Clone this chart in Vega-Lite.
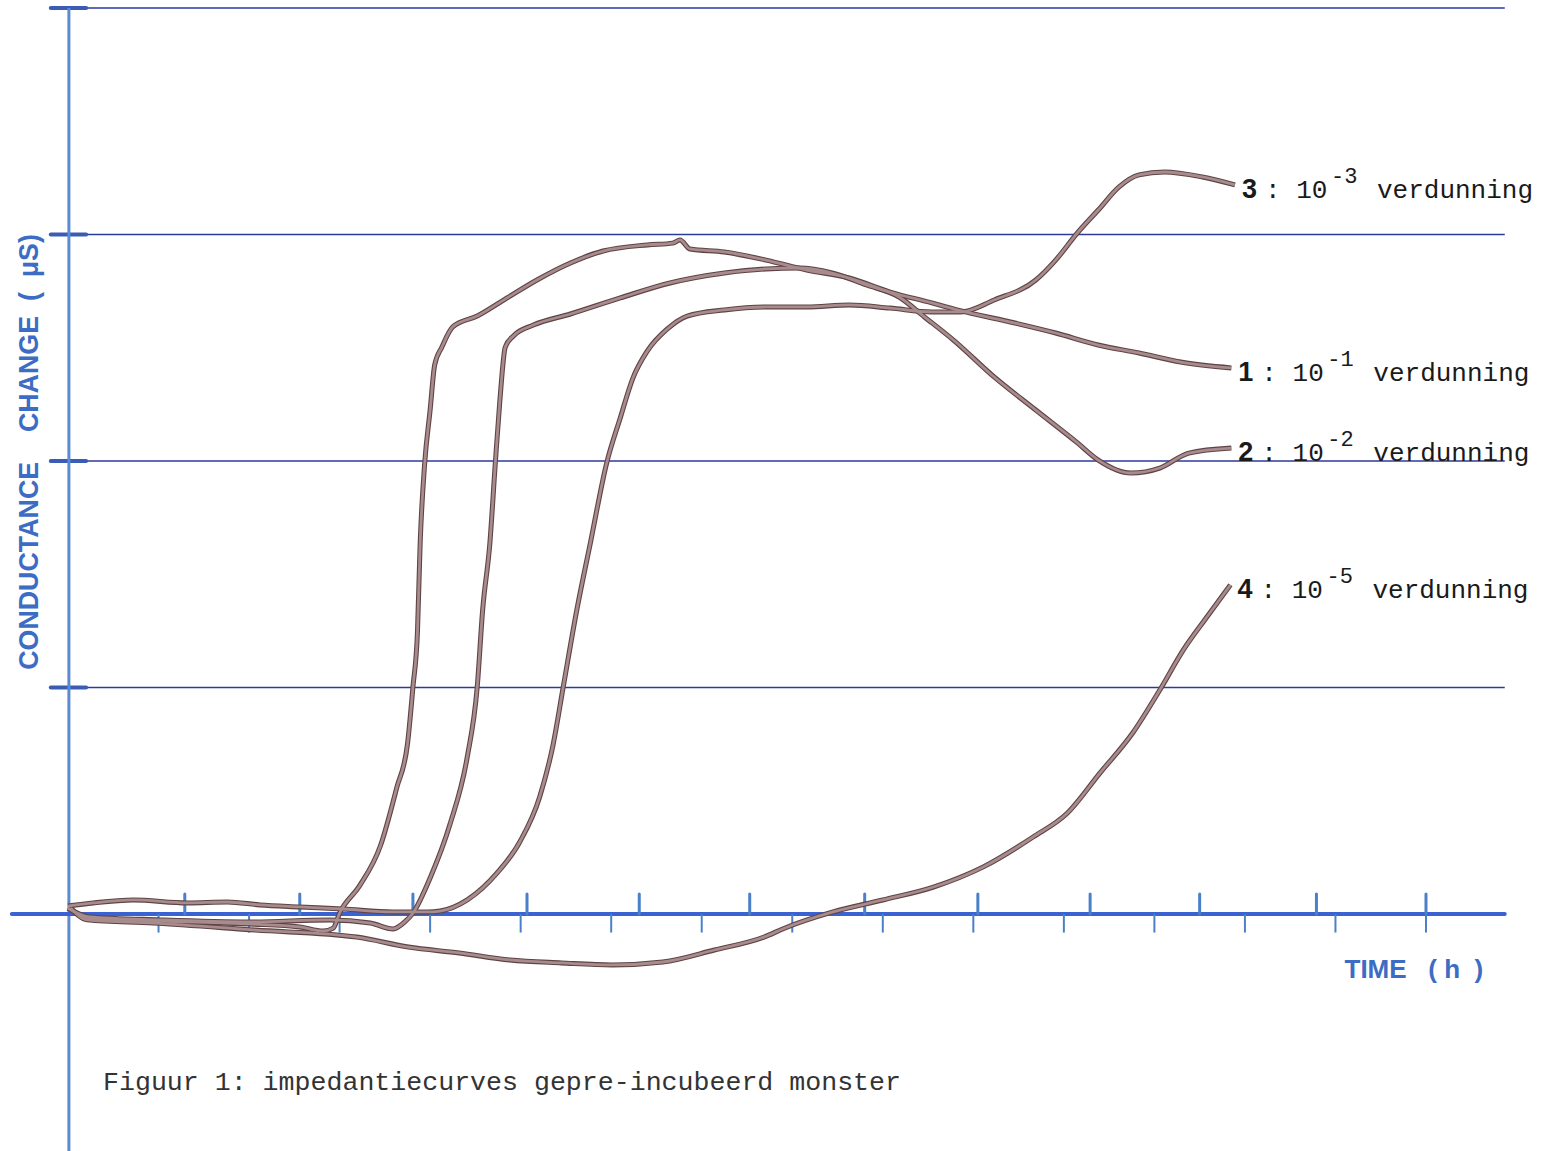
{
  "$schema": "https://vega.github.io/schema/vega-lite/v6.json",
  "width": 1555,
  "height": 1151,
  "autosize": "none",
  "padding": 0,
  "background": "#ffffff",
  "config": {"view": {"stroke": null}},
  "datasets": {
    "curves": [
      {"s":"1","t":0,"v":0.026},{"s":"1","t":0.24,"v":-0.018},{"s":"1","t":1.02,"v":-0.031},{"s":"1","t":2.01,"v":-0.044},{"s":"1","t":2.56,"v":-0.057},{"s":"1","t":2.82,"v":-0.075},{"s":"1","t":2.93,"v":-0.062},{"s":"1","t":3.0,"v":0.004},{"s":"1","t":3.22,"v":0.124},{"s":"1","t":3.45,"v":0.3},{"s":"1","t":3.63,"v":0.556},{"s":"1","t":3.75,"v":0.751},{"s":"1","t":3.81,"v":1.002},{"s":"1","t":3.86,"v":1.245},{"s":"1","t":3.89,"v":1.638},{"s":"1","t":3.94,"v":1.991},{"s":"1","t":4.0,"v":2.225},{"s":"1","t":4.05,"v":2.424},{"s":"1","t":4.13,"v":2.503},{"s":"1","t":4.25,"v":2.592},{"s":"1","t":4.52,"v":2.64},{"s":"1","t":4.85,"v":2.72},{"s":"1","t":5.18,"v":2.799},{"s":"1","t":5.55,"v":2.874},{"s":"1","t":5.91,"v":2.927},{"s":"1","t":6.4,"v":2.954},{"s":"1","t":6.68,"v":2.962},{"s":"1","t":6.76,"v":2.976},{"s":"1","t":6.87,"v":2.936},{"s":"1","t":7.25,"v":2.923},{"s":"1","t":7.71,"v":2.887},{"s":"1","t":8.16,"v":2.843},{"s":"1","t":8.63,"v":2.808},{"s":"1","t":9.08,"v":2.746},{"s":"1","t":9.54,"v":2.698},{"s":"1","t":9.82,"v":2.667},{"s":"1","t":10.46,"v":2.609},{"s":"1","t":10.91,"v":2.565},{"s":"1","t":11.38,"v":2.512},{"s":"1","t":11.83,"v":2.477},{"s":"1","t":12.29,"v":2.437},{"s":"1","t":12.85,"v":2.411},
      {"s":"2","t":0,"v":0.026},{"s":"2","t":0.24,"v":-0.013},{"s":"2","t":1.02,"v":-0.026},{"s":"2","t":2.01,"v":-0.035},{"s":"2","t":2.89,"v":-0.026},{"s":"2","t":3.34,"v":-0.04},{"s":"2","t":3.59,"v":-0.066},{"s":"2","t":3.72,"v":-0.035},{"s":"2","t":3.81,"v":0.004},{"s":"2","t":4.0,"v":0.159},{"s":"2","t":4.22,"v":0.397},{"s":"2","t":4.41,"v":0.693},{"s":"2","t":4.52,"v":1.002},{"s":"2","t":4.58,"v":1.342},{"s":"2","t":4.66,"v":1.638},{"s":"2","t":4.72,"v":1.991},{"s":"2","t":4.77,"v":2.265},{"s":"2","t":4.83,"v":2.503},{"s":"2","t":4.92,"v":2.552},{"s":"2","t":5.14,"v":2.6},{"s":"2","t":5.55,"v":2.649},{"s":"2","t":6.1,"v":2.72},{"s":"2","t":6.65,"v":2.786},{"s":"2","t":7.25,"v":2.83},{"s":"2","t":7.71,"v":2.848},{"s":"2","t":8.08,"v":2.852},{"s":"2","t":8.44,"v":2.83},{"s":"2","t":8.82,"v":2.777},{"s":"2","t":9.18,"v":2.724},{"s":"2","t":9.46,"v":2.636},{"s":"2","t":9.78,"v":2.534},{"s":"2","t":10.23,"v":2.371},{"s":"2","t":10.69,"v":2.225},{"s":"2","t":11.15,"v":2.08},{"s":"2","t":11.38,"v":2.004},{"s":"2","t":11.74,"v":1.947},{"s":"2","t":12.06,"v":1.969},{"s":"2","t":12.38,"v":2.035},{"s":"2","t":12.85,"v":2.057},
      {"s":"3","t":0,"v":0.035},{"s":"3","t":0.28,"v":0.049},{"s":"3","t":0.72,"v":0.062},{"s":"3","t":1.32,"v":0.049},{"s":"3","t":1.76,"v":0.053},{"s":"3","t":2.12,"v":0.04},{"s":"3","t":2.56,"v":0.031},{"s":"3","t":3.04,"v":0.022},{"s":"3","t":3.59,"v":0.009},{"s":"3","t":3.97,"v":0.009},{"s":"3","t":4.11,"v":0.013},{"s":"3","t":4.41,"v":0.062},{"s":"3","t":4.74,"v":0.181},{"s":"3","t":4.99,"v":0.318},{"s":"3","t":5.21,"v":0.517},{"s":"3","t":5.36,"v":0.751},{"s":"3","t":5.47,"v":1.002},{"s":"3","t":5.62,"v":1.342},{"s":"3","t":5.77,"v":1.638},{"s":"3","t":5.95,"v":1.991},{"s":"3","t":6.1,"v":2.19},{"s":"3","t":6.24,"v":2.366},{"s":"3","t":6.4,"v":2.486},{"s":"3","t":6.62,"v":2.583},{"s":"3","t":6.84,"v":2.64},{"s":"3","t":7.25,"v":2.667},{"s":"3","t":7.71,"v":2.68},{"s":"3","t":8.16,"v":2.68},{"s":"3","t":8.63,"v":2.689},{"s":"3","t":9.08,"v":2.675},{"s":"3","t":9.54,"v":2.658},{"s":"3","t":9.86,"v":2.658},{"s":"3","t":10.23,"v":2.711},{"s":"3","t":10.69,"v":2.799},{"s":"3","t":10.91,"v":2.887},{"s":"3","t":11.15,"v":3.007},{"s":"3","t":11.38,"v":3.108},{"s":"3","t":11.61,"v":3.21},{"s":"3","t":11.83,"v":3.263},{"s":"3","t":12.11,"v":3.276},{"s":"3","t":12.53,"v":3.254},{"s":"3","t":12.89,"v":3.219},
      {"s":"4","t":0.03,"v":0.026},{"s":"4","t":0.21,"v":-0.026},{"s":"4","t":0.94,"v":-0.04},{"s":"4","t":2.07,"v":-0.071},{"s":"4","t":3.19,"v":-0.102},{"s":"4","t":3.76,"v":-0.146},{"s":"4","t":4.32,"v":-0.172},{"s":"4","t":4.88,"v":-0.203},{"s":"4","t":5.45,"v":-0.216},{"s":"4","t":6.01,"v":-0.225},{"s":"4","t":6.57,"v":-0.212},{"s":"4","t":7.14,"v":-0.159},{"s":"4","t":7.7,"v":-0.1},{"s":"4","t":7.9,"v":-0.065},{"s":"4","t":8.45,"v":0.009},{"s":"4","t":9.0,"v":0.062},{"s":"4","t":9.56,"v":0.119},{"s":"4","t":10.11,"v":0.208},{"s":"4","t":10.66,"v":0.34},{"s":"4","t":11.04,"v":0.446},{"s":"4","t":11.4,"v":0.623},{"s":"4","t":11.76,"v":0.799},{"s":"4","t":12.06,"v":0.989},{"s":"4","t":12.32,"v":1.166},{"s":"4","t":12.58,"v":1.311},{"s":"4","t":12.84,"v":1.453}
    ],
    "labels": [
      {"s":"1","exp":"-1"},{"s":"2","exp":"-2"},{"s":"3","exp":"-3"},{"s":"4","exp":"-5"}
    ],
    "grid": [{"v":1},{"v":2},{"v":3},{"v":4}],
    "stubs": [{"v":0},{"v":1},{"v":2},{"v":3},{"v":4}],
    "upticks": [{"t":1.29},{"t":2.56},{"t":3.81},{"t":5.07},{"t":6.31},{"t":7.53},{"t":8.8},{"t":10.05},{"t":11.29},{"t":12.5},{"t":13.79},{"t":15.0}],
    "downticks": [{"t":1},{"t":2},{"t":3},{"t":4},{"t":5},{"t":6},{"t":7},{"t":8},{"t":9},{"t":10},{"t":11},{"t":12},{"t":13},{"t":14},{"t":15}],
    "texts": [
      {"id":"ytitle","t":-0.42,"v":2.04,"label":"CONDUCTANCE\u00a0\u00a0\u00a0\u00a0CHANGE\u00a0\u00a0(\u00a0\u00a0μS)"},
      {"id":"xtitle","t":14.1,"v":-0.247,"label":"TIME\u00a0\u00a0\u00a0(\u00a0h\u00a0\u00a0)"},
      {"id":"caption","t":0.387,"v":-0.742,"label":"Figuur 1: impedantiecurves gepre-incubeerd monster"}
    ],
    "axes": [
      {"id":"yaxis","t":0.01,"t2":0.01,"v":4.0,"v2":-1.05},
      {"id":"xaxis","t":-0.62,"t2":15.87,"v":0,"v2":0}
    ]
  },
  "layer": [
    {
      "data": {"name": "grid"},
      "transform": [{"calculate": "-0.2", "as": "t"}, {"calculate": "15.87", "as": "t2"}],
      "mark": {"type": "rule", "color": "#2c3a9c", "strokeWidth": 1.6},
      "encoding": {
        "x": {"field": "t", "type": "quantitative", "scale": {"domain": [-0.7511, 16.425], "nice": false, "zero": false}, "axis": null},
        "x2": {"field": "t2"},
        "y": {"field": "v", "type": "quantitative", "scale": {"domain": [-1.0464, 4.0353], "nice": false, "zero": false}, "axis": null}
      }
    },
    {
      "data": {"name": "stubs"},
      "transform": [{"calculate": "-0.19", "as": "t"}, {"calculate": "0.2", "as": "t2"}],
      "mark": {"type": "rule", "color": "#3a5cb4", "strokeWidth": 4, "strokeCap": "round"},
      "encoding": {
        "x": {"field": "t", "type": "quantitative"},
        "x2": {"field": "t2"},
        "y": {"field": "v", "type": "quantitative"}
      }
    },
    {
      "data": {"name": "axes"},
      "transform": [{"filter": "datum.id === 'yaxis'"}],
      "mark": {"type": "rule", "color": "#5a8ad0", "strokeWidth": 3},
      "encoding": {
        "x": {"field": "t", "type": "quantitative"},
        "y": {"field": "v", "type": "quantitative"},
        "y2": {"field": "v2"}
      }
    },
    {
      "data": {"name": "axes"},
      "transform": [{"filter": "datum.id === 'xaxis'"}],
      "mark": {"type": "rule", "color": "#3a62d2", "strokeWidth": 4, "strokeCap": "round"},
      "encoding": {
        "x": {"field": "t", "type": "quantitative"},
        "x2": {"field": "t2"},
        "y": {"field": "v", "type": "quantitative"}
      }
    },
    {
      "data": {"name": "upticks"},
      "transform": [{"calculate": "0", "as": "v"}, {"calculate": "0.088", "as": "v2"}],
      "mark": {"type": "rule", "color": "#4a80c8", "strokeWidth": 3, "strokeCap": "round"},
      "encoding": {
        "x": {"field": "t", "type": "quantitative"},
        "y": {"field": "v", "type": "quantitative"},
        "y2": {"field": "v2"}
      }
    },
    {
      "data": {"name": "downticks"},
      "transform": [{"calculate": "0", "as": "v"}, {"calculate": "-0.082", "as": "v2"}],
      "mark": {"type": "rule", "color": "#4a80c8", "strokeWidth": 2},
      "encoding": {
        "x": {"field": "t", "type": "quantitative"},
        "y": {"field": "v", "type": "quantitative"},
        "y2": {"field": "v2"}
      }
    },
    {
      "data": {"name": "curves"},
      "mark": {"type": "line", "color": "#5e4446", "strokeWidth": 5, "strokeJoin": "round", "interpolate": "monotone"},
      "encoding": {
        "x": {"field": "t", "type": "quantitative"},
        "y": {"field": "v", "type": "quantitative"},
        "detail": {"field": "s"}
      }
    },
    {
      "data": {"name": "curves"},
      "mark": {"type": "line", "color": "#a88b8d", "strokeWidth": 2.8, "strokeJoin": "round", "interpolate": "monotone"},
      "encoding": {
        "x": {"field": "t", "type": "quantitative"},
        "y": {"field": "v", "type": "quantitative"},
        "detail": {"field": "s"}
      }
    },
    {
      "data": {"name": "curves"},
      "transform": [
        {"joinaggregate": [{"op": "max", "field": "t", "as": "tmax"}], "groupby": ["s"]},
        {"filter": "datum.t === datum.tmax"},
        {"lookup": "s", "from": {"data": {"name": "labels"}, "key": "s", "fields": ["exp"]}}
      ],
      "encoding": {
        "x": {"field": "t", "type": "quantitative"},
        "y": {"field": "v", "type": "quantitative"}
      },
      "layer": [
        {"mark": {"type": "text", "align": "left", "baseline": "middle", "dx": 7, "dy": 5, "font": "Liberation Sans", "fontWeight": "bold", "fontSize": 27, "color": "#1a1a1a"},
         "encoding": {"text": {"field": "s"}}},
        {"mark": {"type": "text", "align": "left", "baseline": "middle", "dx": 30, "dy": 5, "font": "Liberation Mono", "fontSize": 26, "color": "#1a1a1a", "text": ": 10"}},
        {"mark": {"type": "text", "align": "left", "baseline": "middle", "dx": 96, "dy": -9, "font": "Liberation Mono", "fontSize": 22, "color": "#1a1a1a"},
         "encoding": {"text": {"field": "exp"}}},
        {"mark": {"type": "text", "align": "left", "baseline": "middle", "dx": 142, "dy": 5, "font": "Liberation Mono", "fontSize": 26, "color": "#1a1a1a", "text": "verdunning"}}
      ]
    },
    {
      "data": {"name": "texts"},
      "transform": [{"filter": "datum.id === 'ytitle'"}],
      "mark": {"type": "text", "angle": 270, "align": "center", "baseline": "middle", "font": "Liberation Sans", "fontWeight": "bold", "fontSize": 26.8, "color": "#3d6cc4"},
      "encoding": {
        "x": {"field": "t", "type": "quantitative"},
        "y": {"field": "v", "type": "quantitative"},
        "text": {"field": "label"}
      }
    },
    {
      "data": {"name": "texts"},
      "transform": [{"filter": "datum.id === 'xtitle'"}],
      "mark": {"type": "text", "align": "left", "baseline": "middle", "font": "Liberation Sans", "fontWeight": "bold", "fontSize": 26, "color": "#3d6cc4"},
      "encoding": {
        "x": {"field": "t", "type": "quantitative"},
        "y": {"field": "v", "type": "quantitative"},
        "text": {"field": "label"}
      }
    },
    {
      "data": {"name": "texts"},
      "transform": [{"filter": "datum.id === 'caption'"}],
      "mark": {"type": "text", "align": "left", "baseline": "middle", "font": "Liberation Mono", "fontSize": 26.6, "color": "#333333"},
      "encoding": {
        "x": {"field": "t", "type": "quantitative"},
        "y": {"field": "v", "type": "quantitative"},
        "text": {"field": "label"}
      }
    }
  ]
}
